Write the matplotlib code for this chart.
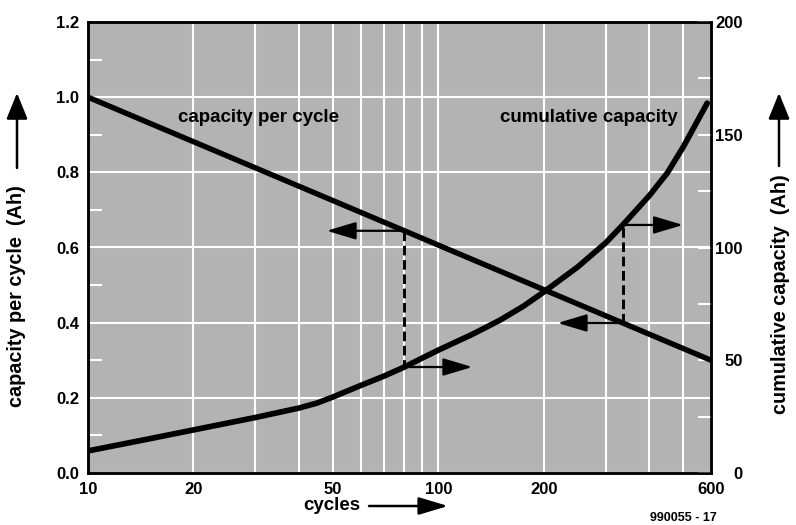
import numpy as np
import matplotlib
matplotlib.use("Agg")
import matplotlib.pyplot as plt

plt.rcParams['font.family'] = ['Liberation Sans', 'DejaVu Sans']
plt.rcParams['font.weight'] = 'bold'

# ---- data ----
cap_cycles = [10, 600]
cap_values = [1.0, 0.3]

cum_cycles = [10, 15, 20, 30, 40, 45, 50, 60, 70, 80, 90, 100, 125, 150, 175, 200, 250, 300, 336, 400, 450, 500, 585]
cum_values = [9.8, 15.2, 19.1, 24.6, 28.8, 31.0, 33.7, 38.8, 43.0, 47.0, 51.0, 54.5, 61.5, 67.8, 74.0, 80.3, 91.4, 102.0, 110.0, 123.0, 133.0, 144.6, 164.0]

x_major = [10, 20, 50, 100, 200, 600]
x_minor = [30, 40, 60, 70, 80, 90, 300, 400, 500]
left_ticks = [0.0, 0.2, 0.4, 0.6, 0.8, 1.0, 1.2]
left_minor = [0.1, 0.3, 0.5, 0.7, 0.9, 1.1]
right_ticks = [0, 50, 100, 150, 200]
right_minor = [25, 75, 125, 175]

mark_cycles = [80, 336]
left_arrow_end = [48, 219]
right_arrow_end = [125, 499]

LMAX, RMAX = 1.2, 200.0
scale = RMAX / LMAX

def cap_at(x):
    return np.interp(np.log10(x), np.log10(cap_cycles), cap_values)

def cum_at(x):
    return np.interp(np.log10(x), np.log10(cum_cycles), cum_values)

W, H = 796, 525
fig = plt.figure(figsize=(W / 100, H / 100), dpi=100, facecolor='white')
ax = fig.add_axes([88 / W, 1 - 473 / H, (711 - 88) / W, (473 - 22) / H])
ax.set_facecolor('#b3b3b3')
ax.set_xscale('log')
ax.set_xlim(10, 600)
ax.set_ylim(0, LMAX)
ax.set_xticks(x_major)
ax.set_xticklabels([str(v) for v in x_major])
ax.set_xticks(x_minor, minor=True)
ax.set_xticklabels([], minor=True)
ax.set_yticks(left_ticks)
ax.set_yticklabels([f"{v:.1f}" for v in left_ticks])
ax.set_yticks(left_minor, minor=True)
ax.xaxis.grid(True, which='both', color='white', lw=1.5)
ax.yaxis.grid(True, which='major', color='white', lw=1.5)
ax.set_axisbelow(True)
ax.tick_params(axis='x', which='both', length=0, pad=6.5, labelsize=12)
ax.tick_params(axis='y', which='major', length=0, pad=6.5, labelsize=12)
ax.tick_params(axis='y', which='minor', direction='in', length=10, width=1.5, color='white')
for s in ax.spines.values():
    s.set_linewidth(1.8)

ax2 = ax.twinx()
ax2.set_ylim(0, RMAX)
ax2.set_xlim(10, 600)
ax2.set_yticks(right_ticks)
ax2.set_yticklabels([str(v) for v in right_ticks])
ax2.set_yticks(right_minor, minor=True)
ax2.tick_params(axis='y', which='both', direction='in', length=9.5, width=1.5,
                color='white', labelsize=12, pad=23)
for lab in ax2.get_yticklabels():
    lab.set_ha('right')
for s in ax2.spines.values():
    s.set_linewidth(1.8)

# curves
ax2.plot(cap_cycles, np.array(cap_values) * scale, color='black', lw=3.9,
         solid_capstyle='round', zorder=5)
ax2.plot(cum_cycles, cum_values, color='black', lw=4.1,
         solid_capstyle='round', solid_joinstyle='round', zorder=5)

# dashed markers and arrows
arrow_kw = dict(arrowstyle='-|>,head_length=18,head_width=5.4', mutation_scale=1,
                color='black', lw=1.6, shrinkA=0, shrinkB=0)
for xm, xl, xr in zip(mark_cycles, left_arrow_end, right_arrow_end):
    ytop = cap_at(xm) * scale
    ybot = cum_at(xm)
    ax2.plot([xm, xm], [ytop, ybot], color='black', lw=2.1, ls=(0, (3.3, 1.6)), zorder=4)
    ax2.annotate('', xy=(xl, ytop), xytext=(xm, ytop), arrowprops=arrow_kw)
    ax2.annotate('', xy=(xr, ybot), xytext=(xm, ybot), arrowprops=arrow_kw)

# in-plot labels
ax.text((178 - 88) / 623, (473 - 117) / 451, 'capacity per cycle', transform=ax.transAxes,
        ha='left', va='center', fontsize=13.5, fontweight='bold')
ax.text((500 - 88) / 623, (473 - 117) / 451, 'cumulative capacity', transform=ax.transAxes,
        ha='left', va='center', fontsize=13.5, fontweight='bold')

# axis titles with arrows (figure pixels)
def fp(x, y):
    return (x / W, 1 - y / H)

fig.text(*fp(17, 296), 'capacity per cycle  (Ah)', rotation=90, ha='center', va='center',
         fontsize=14.3, fontweight='bold')
fig.text(*fp(780, 294), 'cumulative capacity  (Ah)', rotation=90, ha='center', va='center',
         fontsize=14.3, fontweight='bold')
fig.text(*fp(332, 505), 'cycles', ha='center', va='center', fontsize=13.5, fontweight='bold')
fig.text(*fp(717, 518), '990055 - 17', ha='right', va='center', fontsize=9, fontweight='bold')

big = dict(arrowstyle='-|>,head_length=16,head_width=6.5', mutation_scale=1,
           color='black', lw=1.8, shrinkA=0, shrinkB=0)
fig_arrow = dict(arrowstyle='-|>,head_length=18,head_width=5.4', mutation_scale=1,
                 color='black', lw=1.8, shrinkA=0, shrinkB=0)
fig.add_artist(matplotlib.patches.FancyArrowPatch(fp(17, 168), fp(17, 93),
               transform=fig.transFigure, **big))
fig.add_artist(matplotlib.patches.FancyArrowPatch(fp(779, 166), fp(779, 93),
               transform=fig.transFigure, **big))
fig.add_artist(matplotlib.patches.FancyArrowPatch(fp(369, 506), fp(448, 506),
               transform=fig.transFigure, **fig_arrow))

fig.savefig('out.png', dpi=100, facecolor='white')
